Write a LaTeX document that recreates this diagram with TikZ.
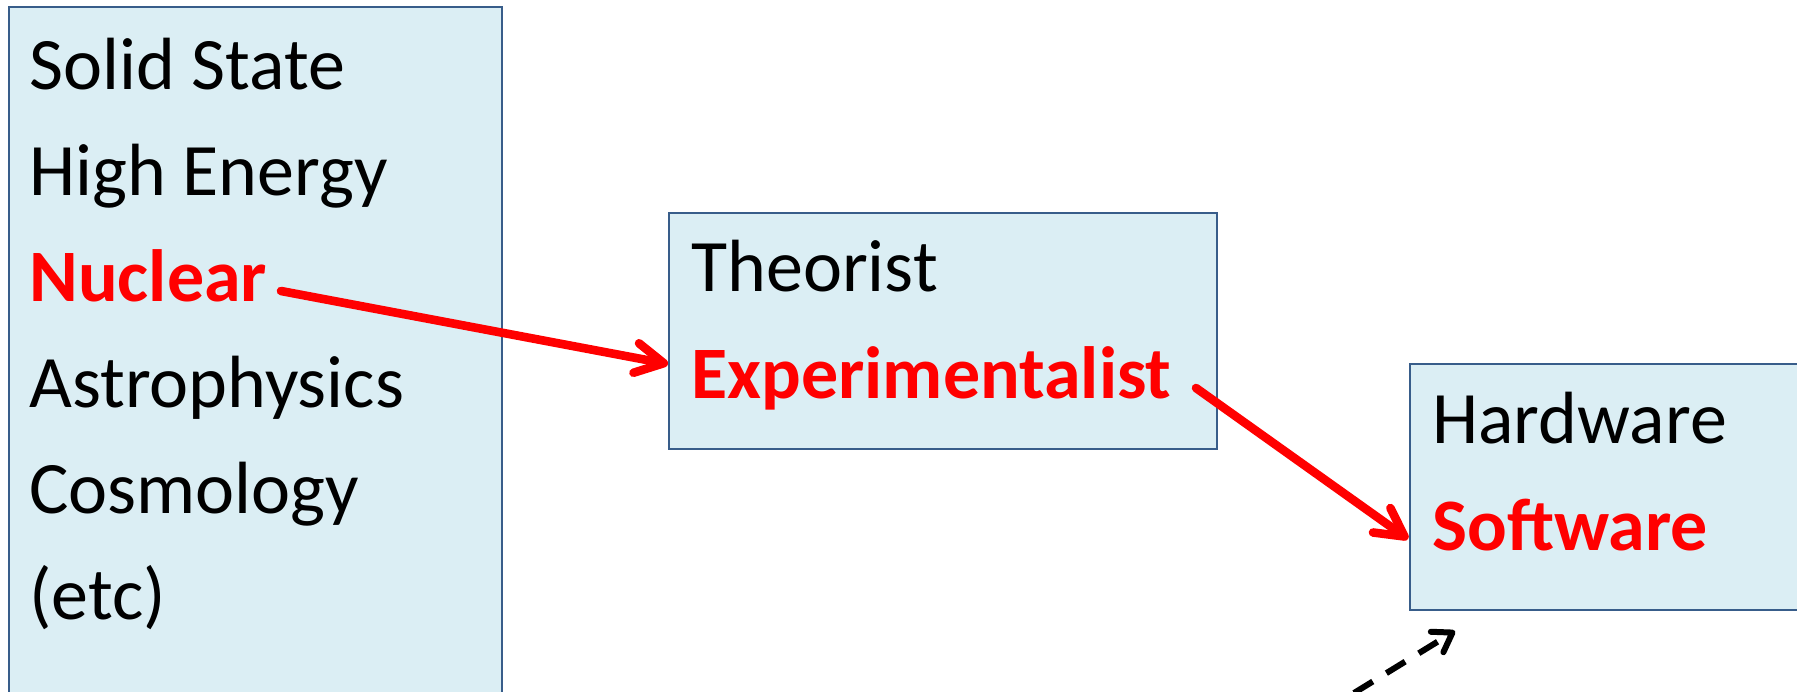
\documentclass[tikz,border=0pt]{standalone}
\usepackage{fontspec}
\setmainfont{Carlito}
\usetikzlibrary{arrows.meta}
\definecolor{boxfill}{HTML}{DBEEF4}
\definecolor{boxline}{HTML}{385D8A}
\definecolor{hot}{HTML}{FF0000}
\tikzset{
  box/.style={draw=boxline, fill=boxfill, line width=1pt},
  word/.style={anchor=base west, inner sep=0pt, font=\fontsize{37}{44}\selectfont},
  hotword/.style={text=hot, font=\fontsize{37}{44}\selectfont\bfseries},
  redarrow/.style={draw=hot, line width=4.3pt, line cap=round,
    -{Straight Barb[length=14pt,width=15pt,line cap=round,line join=round]}},
  dasharrow/.style={draw=black, line width=3pt, dash pattern=on 11pt off 8pt,
    -{Straight Barb[length=9pt,width=12pt,line cap=round,line join=round]}}
}
\begin{document}
\begin{tikzpicture}[x=0.5pt,y=-0.5pt]
\useasboundingbox (0,0) rectangle (1797,691);
% boxes
\path[box] (9,7) rectangle (502,710);
\path[box] (669,213) rectangle (1217,449);
\path[box] (1410,364) rectangle (1810,610);
% left box lines
\node[word] (solid) at (29,89) {Solid State};
\node[word] (high) at (29,195) {High Energy};
\node[word, hotword] (nuc) at (29,301) {Nuclear};
\node[word] (astro) at (29,407) {Astrophysics};
\node[word] (cosmo) at (29,513) {Cosmology};
\node[word] (etc) at (29,619) {(etc)};
% middle box
\node[word] (theo) at (691,291) {Theorist};
\node[word, hotword] (exp) at (691,398) {Experimentalist};
% right box
\node[word] (hard) at (1432,443) {Hardware};
\node[word, hotword] (soft) at (1432,550) {Software};
% arrow ends
\coordinate (a1s) at (281,291);
\coordinate (a1e) at (668,364);
\coordinate (a2s) at (1196,388);
\coordinate (a2e) at (1408,539);
\coordinate (a3s) at (1354,693);
\coordinate (a3e) at (1455,631);
\draw[redarrow] (a1s) -- (a1e);
\draw[redarrow] (a2s) -- (a2e);
\draw[dasharrow] (a3s) -- (a3e);
\end{tikzpicture}
\end{document}
